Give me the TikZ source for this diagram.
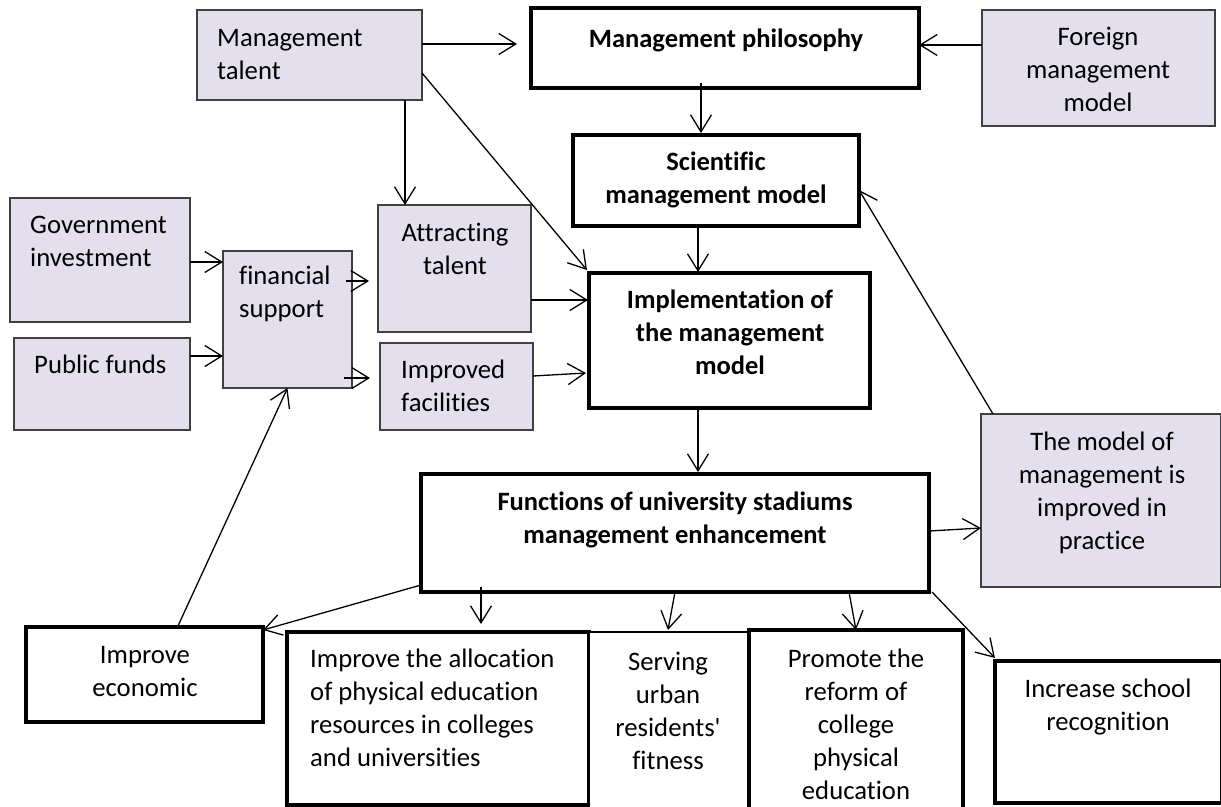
\documentclass[tikz,border=0pt]{standalone}
\usepackage{fontspec}
\setmainfont{Carlito}[Ligatures={TeX,NoCommon}]
\usetikzlibrary{arrows.meta}
\definecolor{lav}{RGB}{227,223,236}
\definecolor{edgegray}{RGB}{64,64,64}
\newcommand{\ml}[2][c]{\begin{tabular}[t]{@{}#1@{}}#2\end{tabular}}
\begin{document}
\begin{tikzpicture}[x=1pt,y=-1pt,
  pbox/.style={draw=edgegray, line width=1.3pt, fill=lav, rectangle, inner sep=0pt, outer sep=0pt, anchor=north west},
  tbox/.style={draw=black, line width=4.5pt, fill=white, rectangle, inner sep=0pt, outer sep=0pt, anchor=north west},
  wbox/.style={draw=black, line width=2pt, fill=white, rectangle, inner sep=0pt, outer sep=0pt, anchor=north west},
  txt/.style={inner sep=0pt, font=\fontsize{26.7}{33}\selectfont},
  btxt/.style={inner sep=0pt, font=\fontsize{26.5}{33}\selectfont\bfseries},
  arr/.style={line width=1.3pt, -{Straight Barb[length=17pt,width=21pt,line width=1.3pt]}}]
\useasboundingbox (0,0) rectangle (1221,806);
\clip (0,0) rectangle (1221,806);

% boxes
\node[pbox, minimum width=225pt, minimum height=90pt] (mt) at (197,10) {};
\node[tbox, minimum width=388pt, minimum height=80pt] (mp) at (531,8) {};
\node[pbox, minimum width=233pt, minimum height=116pt] (fmm) at (982,10) {};
\node[tbox, minimum width=286pt, minimum height=91pt] (smm) at (573,135) {};
\node[pbox, minimum width=180pt, minimum height=124pt] (gi) at (10,198) {};
\node[pbox, minimum width=176pt, minimum height=92pt] (pf) at (14,338) {};
\node[pbox, minimum width=129pt, minimum height=137pt] (fs) at (223,251) {};
\node[pbox, minimum width=153pt, minimum height=127pt] (at) at (378,205) {};
\node[pbox, minimum width=153pt, minimum height=87pt] (if) at (380,343) {};
\node[tbox, minimum width=281pt, minimum height=135pt] (impl) at (589,273) {};
\node[tbox, minimum width=508pt, minimum height=118pt] (func) at (421,474) {};
\node[pbox, minimum width=240pt, minimum height=173pt] (tmm) at (981,414) {};
\node[tbox, minimum width=237pt, minimum height=95pt] (ie) at (26,627) {};
\node[tbox, minimum width=302pt, minimum height=173pt] (ia) at (287,632) {};
\node[wbox, minimum width=160pt, minimum height=183pt] (su) at (589,632) {};
\node[tbox, minimum width=214pt, minimum height=185pt] (pr) at (749,630) {};
\node[tbox, minimum width=227pt, minimum height=142pt] (isr) at (995,661) {};

% texts
\node[txt, anchor=base west] (mt-t) at (217,46) {\ml[l]{Management\\talent}};
\node[btxt, anchor=base] (mp-t) at (726,47) {Management philosophy};
\node[txt, anchor=base] (fmm-t) at (1098,45) {\ml{Foreign\\management\\model}};
\node[btxt, anchor=base] (smm-t) at (716,170) {\ml{Scientific\\management model}};
\node[txt, anchor=base west] (gi-t) at (30,233) {\ml[l]{Government\\investment}};
\node[txt, anchor=base west] (pf-t) at (34,373) {Public funds};
\node[txt, anchor=base west] (fs-t) at (239,284) {\ml[l]{financial\\support}};
\node[txt, anchor=base] (at-t) at (455,241) {\ml{Attracting\\talent}};
\node[txt, anchor=base west] (if-t) at (401,378) {\ml[l]{Improved\\facilities}};
\node[btxt, anchor=base] (impl-t) at (730,308) {\ml{Implementation of\\the management\\model}};
\node[btxt, anchor=base] (func-t) at (675,510) {\ml{Functions of university stadiums\\management enhancement}};
\node[txt, anchor=base] (tmm-t) at (1102,450) {\ml{The model of\\management is\\improved in\\practice}};
\node[txt, anchor=base] (ie-t) at (145,663) {\ml{Improve\\economic}};
\node[txt, anchor=base west] (ia-t) at (310,667) {\ml[l]{Improve the allocation\\of physical education\\resources in colleges\\and universities}};
\node[txt, anchor=base] (su-t) at (668,670) {\ml{Serving\\urban\\residents\textquotesingle\\fitness}};
\node[txt, anchor=base] (pr-t) at (856,667) {\ml{Promote the\\reform of\\college\\physical\\education}};
\node[txt, anchor=base] (isr-t) at (1108,697) {\ml{Increase school\\recognition}};

% connectors
\draw[arr] ([yshift=11pt]mt.east) -- ([xshift=-14pt,yshift=4pt]mp.west);
\draw[arr] ([yshift=23pt]fmm.west) -- ([yshift=3pt]mp.east);
\draw[arr] ([xshift=-24pt,yshift=5pt]mp.south) -- ([xshift=-15pt,yshift=2pt]smm.north);
\draw[arr] ([xshift=-18pt]smm.south) -- ([xshift=-31.5pt,yshift=1pt]impl.north);
\draw[arr] ([xshift=-31.5pt]impl.south) -- ([xshift=23pt,yshift=2pt]func.north);
\draw[arr] ([yshift=2pt]func.east) -- ([yshift=-27.5pt]tmm.west);
\draw[arr] ([xshift=12pt]tmm.north west) -- ([yshift=-9.5pt]smm.east);
\draw[arr] ([xshift=-17pt]mt.south east) -- ([xshift=-17pt]mt.south east |- at.north);
\draw[arr] ([yshift=-18pt]mt.east) -- ([xshift=-2pt,yshift=3pt]impl.north west);
\draw[arr] ([yshift=-2pt]gi.east) -- ([yshift=-2pt]gi.east -| fs.west);
\draw[arr] ([yshift=28pt]pf.east) -- ([yshift=28pt]pf.east -| fs.west);
\draw[arr, shorten >=3pt] ([xshift=-6pt,yshift=-30pt]fs.north east) -- ([xshift=-6pt,yshift=-30pt]fs.north east -| at.west);
\draw[arr, shorten >=2pt] ([xshift=-8pt,yshift=10pt]fs.south east) -- ([xshift=-8pt,yshift=10pt]fs.south east -| if.west);
\draw[arr, shorten >=1pt] ([yshift=-31.5pt]at.east) -- ([yshift=-31.5pt]at.east -| impl.west);
\draw[arr] ([yshift=10.5pt]if.east) -- ([xshift=-3pt,yshift=-32.5pt]impl.west);
\draw[arr] ([yshift=7pt]func.south west) -- ([yshift=-3pt]ie.north east);
\draw[arr] ([xshift=33pt]ie.north) -- (fs.south);
\draw[arr, shorten >=3pt] ([xshift=60pt,yshift=5pt]func.south west) -- ([xshift=60pt,yshift=5pt]func.south west |- ia.north);
\draw[arr] (func.south) -- ([xshift=-1pt,yshift=2pt]su.north);
\draw[arr] ([xshift=-80pt]func.south east) -- (pr.north);
\draw[arr] ([xshift=3pt]func.south east) -- ([yshift=3pt]isr.north west);
\end{tikzpicture}
\end{document}
